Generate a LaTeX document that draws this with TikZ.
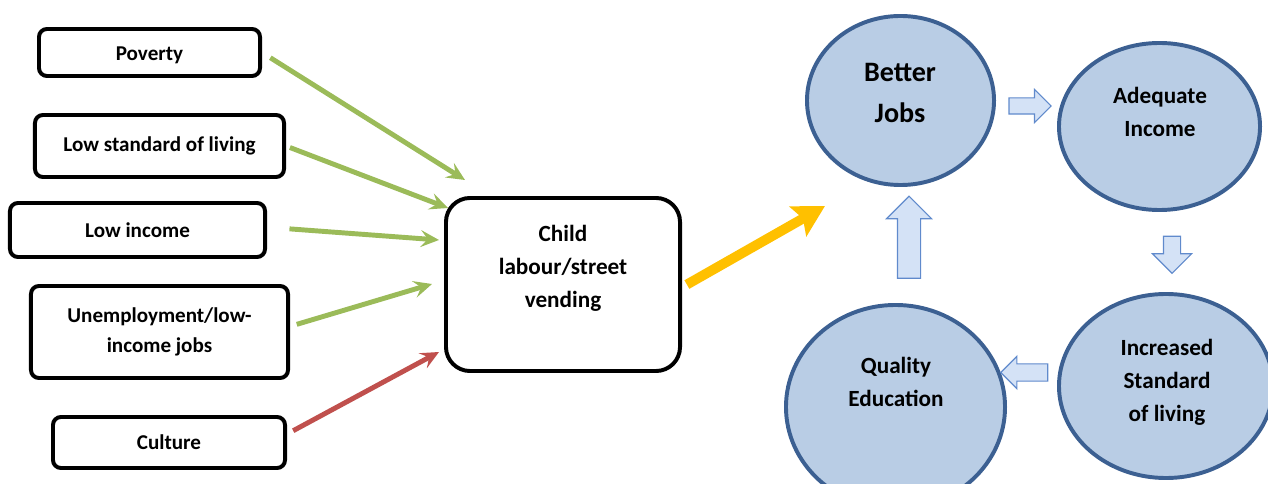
\documentclass[tikz,border=0pt]{standalone}
\usepackage{fontspec}
\setmainfont{Carlito}
\usetikzlibrary{positioning,arrows.meta,shapes.geometric,shapes.arrows}
\definecolor{causegreen}{RGB}{155,187,89}
\definecolor{causered}{RGB}{192,80,77}
\definecolor{leadgold}{RGB}{255,192,0}
\definecolor{cyclefill}{RGB}{185,205,229}
\definecolor{cycleline}{RGB}{60,96,146}
\definecolor{blockfill}{RGB}{212,226,246}
\definecolor{blockline}{RGB}{96,138,204}

\begin{document}
\begin{tikzpicture}[
        x=0.025cm, y=-0.025cm,
        cause/.style={draw, line width=2.8pt, rounded corners=0.2cm, align=center,
            font=\fontsize{15}{21.3}\selectfont\bfseries},
        cycle/.style={ellipse, draw=cycleline, fill=cyclefill, line width=2.8pt},
        cycletext/.style={align=center, font=\fontsize{16.5}{23.5}\selectfont\bfseries},
        feed/.style={-{Stealth[length=13pt,width=12pt,inset=5pt]}, line width=3.5pt, causegreen},
        block/.style={single arrow, draw=blockline, line width=0.8pt, fill=blockfill,
            inner sep=0pt, text depth=0pt, single arrow head indent=0pt}
    ]
        \useasboundingbox (0,0) rectangle (1268,484);

        % Causes
        \node[cause, minimum width=5.525cm, minimum height=1.175cm, text height=0.5cm] (pov) at (149.5,52.5) {Poverty};
        \node[cause, minimum width=6.225cm, minimum height=1.55cm] (lowstd) at (159.5,146) {Low standard of living};
        \node[cause, minimum width=6.375cm, minimum height=1.35cm] (lowinc) at (137.5,230) {Low income};
        \node[cause, minimum width=6.425cm, minimum height=2.3cm] (unemp) at (159.5,332) {Unemployment/low-\\income jobs};
        \node[cause, minimum width=5.8cm, minimum height=1.275cm] (cult) at (169,442.5) {Culture};

        % Child labour
        \node[draw, line width=2.8pt, rounded corners=0.6cm, minimum width=5.85cm, minimum height=4.325cm] (child) at (563,284.5) {};
        \node[cycletext] (childtxt) at (563,268) {Child\\labour/street\\vending};

        % Arrow heads end short of the box
        \coordinate (povtip) at (465,180);
        \coordinate (stdtip) at (448,208);
        \coordinate (inctip) at (439,240);
        \coordinate (unetip) at (432,284);
        \coordinate (culttip) at (439,352);
        \coordinate (jobsin) at (825,206);

        \draw[feed, shorten <=7pt] (pov.east) -- (povtip);
        \draw[feed, shorten <=3pt] (lowstd.east) -- (stdtip);
        \draw[feed, shorten <=16pt] ([yshift=2pt]lowinc.east) -- (inctip);
        \draw[feed, shorten <=5pt] ([yshift=4pt]unemp.east) -- (unetip);
        \draw[feed, causered, shorten <=5pt] ([yshift=6pt]cult.east) -- (culttip);
        \draw[-{Stealth[length=22pt,width=24pt,inset=4pt]}, line width=7pt, leadgold, shorten <=4pt]
            ([yshift=-2pt]child.east) -- (jobsin);

        % The cycle
        \node[cycle, minimum width=4.675cm, minimum height=4.225cm] (jobs) at (900.5,100.5) {};
        \node[cycle, minimum width=5.025cm, minimum height=4.175cm] (income) at (1159.5,126.5) {};
        \node[cycle, minimum width=5.35cm, minimum height=4.6cm] (stdliv) at (1166,386) {};
        \node[cycle, minimum width=5.475cm, minimum height=5.1cm] (qual) at (895.5,407) {};

        \node[align=center, font=\fontsize{20}{28.5}\selectfont\bfseries] (jobstxt) at (900,93) {Better\\Jobs};
        \node[cycletext] (incometxt) at (1160,111.5) {Adequate\\Income};
        \node[cycletext] (stdlivtxt) at (1167,382) {Increased\\Standard\\of living};
        \node[cycletext] (qualtxt) at (896,381.5) {Quality\\Education};

        % Block arrows between the circles
        \node[block, minimum height=1.05cm, text height=0.375cm, single arrow head extend=0.2125cm] (jobs2inc) at (1026,106) {};
        \node[block, rotate=-90, minimum height=0.925cm, text height=0.4cm, single arrow head extend=0.275cm] (inc2std) at (1172,250.5) {};
        \node[block, rotate=180, minimum height=1.175cm, text height=0.4cm, single arrow head extend=0.19cm] (std2qual) at (1028.5,372.5) {};
        \node[block, rotate=90, minimum height=2.05cm, text height=0.55cm, single arrow head extend=0.275cm] (qual2jobs) at (909,243) {};

    \end{tikzpicture}
\end{document}
